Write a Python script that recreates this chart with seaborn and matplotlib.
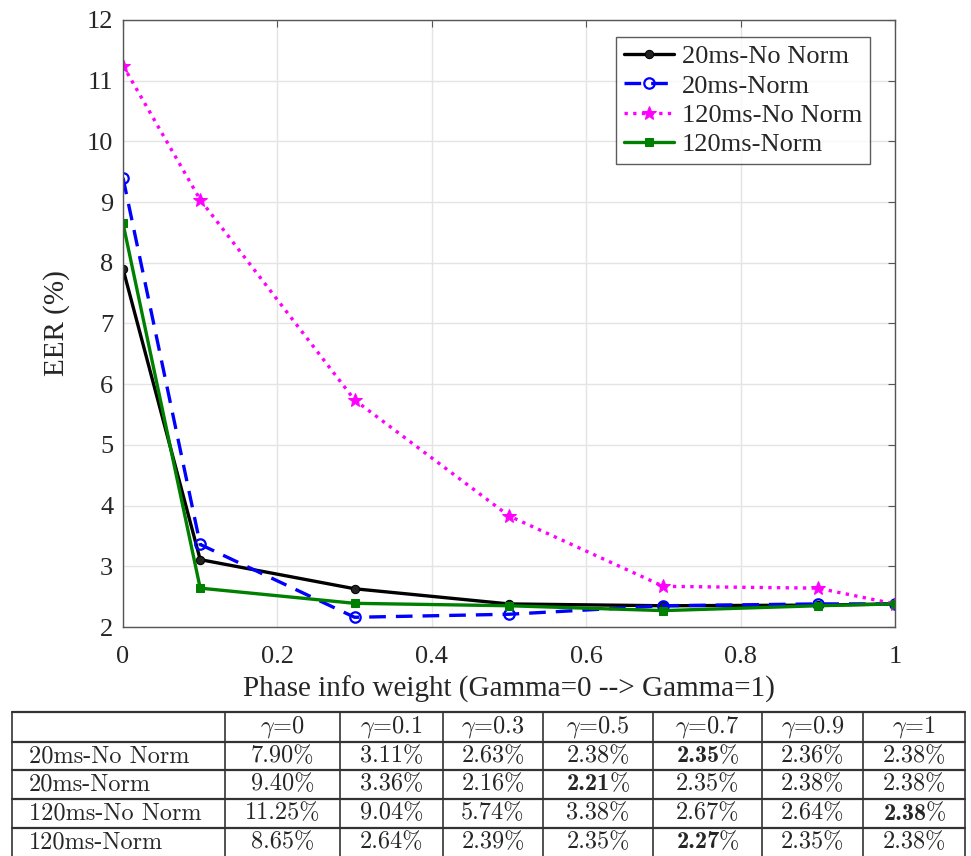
import matplotlib
matplotlib.use("Agg")
import matplotlib.pyplot as plt
import numpy as np
import pandas as pd
import seaborn as sns

# ---- data ----
gammas = [0, 0.1, 0.3, 0.5, 0.7, 0.9, 1]
series_names = ["20ms-No Norm", "20ms-Norm", "120ms-No Norm", "120ms-Norm"]
eer_20_nonorm = [7.90, 3.11, 2.63, 2.38, 2.35, 2.36, 2.38]
eer_20_norm = [9.40, 3.36, 2.16, 2.21, 2.35, 2.38, 2.38]
eer_120_nonorm = [11.25, 9.04, 5.74, 3.83, 2.67, 2.64, 2.38]
eer_120_norm = [8.65, 2.64, 2.39, 2.35, 2.27, 2.35, 2.38]

# table text (as printed)
col_headers = ["0", "0.1", "0.3", "0.5", "0.7", "0.9", "1"]
tbl_20_nonorm = ["7.90", "3.11", "2.63", "2.38", "2.35", "2.36", "2.38"]
tbl_20_norm = ["9.40", "3.36", "2.16", "2.21", "2.35", "2.38", "2.38"]
tbl_120_nonorm = ["11.25", "9.04", "5.74", "3.38", "2.67", "2.64", "2.38"]
tbl_120_norm = ["8.65", "2.64", "2.39", "2.35", "2.27", "2.35", "2.38"]
# bold (best) cells: column index per row
tbl_bold = [[4], [3], [6], [4]]

sns.set_style("white")
plt.rcParams["font.family"] = ["Liberation Serif", "DejaVu Serif"]
plt.rcParams["mathtext.fontset"] = "cm"

W, H = 971, 856
fig = plt.figure(figsize=(W / 100, H / 100), dpi=100)

ax = fig.add_axes([123 / W, 1 - 627 / H, (895 - 123) / W, (627 - 20) / H])

all_vals = [eer_20_nonorm, eer_20_norm, eer_120_nonorm, eer_120_norm]
styles = [
    dict(color="black", linestyle="-", marker="o", markersize=6,
         markerfacecolor="#222222", markeredgecolor="black"),
    dict(color="blue", linestyle=(0, (5, 3)), marker="o", markersize=7.5,
         markerfacecolor="none", markeredgecolor="blue", markeredgewidth=1.6),
    dict(color="magenta", linestyle=(0, (1, 1.6)), marker="*", markersize=10,
         markerfacecolor="magenta", markeredgecolor="magenta"),
    dict(color="#008000", linestyle="-", marker="s", markersize=6,
         markerfacecolor="#008000", markeredgecolor="#008000"),
]
for name, vals, st in zip(series_names, all_vals, styles):
    df = pd.DataFrame({"gamma": gammas, "eer": vals})
    sns.lineplot(data=df, x="gamma", y="eer", ax=ax, label=name,
                 linewidth=2.4, **st)

ax.set_xlim(0, 1)
ax.set_ylim(2, 12)
ax.set_xticks([0, 0.2, 0.4, 0.6, 0.8, 1])
ax.set_xticklabels(["0", "0.2", "0.4", "0.6", "0.8", "1"])
ax.set_yticks(range(2, 13))
ax.grid(True, color="#e4e4e4", linewidth=1)
ax.tick_params(direction="in", length=5, width=0.8, color="#555555",
               labelsize=19, top=True, right=True)
ax.tick_params(axis="x", pad=14)
ax.tick_params(axis="y", pad=7)
for sp in ax.spines.values():
    sp.set_color("#555555")
    sp.set_linewidth(1)
ax.set_xlabel("Phase info weight (Gamma=0 --> Gamma=1)", fontsize=21, labelpad=5)
ax.set_ylabel("EER (%)", fontsize=21, labelpad=12)

leg = ax.legend(loc="upper right", bbox_to_anchor=(0.968, 0.972), fontsize=19,
                frameon=True, fancybox=False, edgecolor="#333333",
                handlelength=1.9, handletextpad=0.3, borderpad=0.3,
                labelspacing=0.22, borderaxespad=0)
leg.get_frame().set_linewidth(1.0)

# ---- table underneath ----
tax = fig.add_axes([0, 0, 1, 1])
tax.set_xlim(0, W)
tax.set_ylim(H, 0)
tax.axis("off")

col_edges = [12, 225, 340, 443, 543, 653, 762, 863, 965]
row_edges = [712, 742, 770, 799, 828, 856]
for xe in col_edges:
    tax.plot([xe, xe], [row_edges[0], row_edges[-1]], color="#333333", lw=1.2)
for ye in row_edges[:-1]:
    tax.plot([col_edges[0], col_edges[-1]], [ye, ye], color="#333333", lw=1.6)

FS = 17.5
tfont = dict(family="cmr10", fontsize=FS, va="center")
for j, h in enumerate(col_headers):
    cx = (col_edges[j + 1] + col_edges[j + 2]) / 2
    cy = (row_edges[0] + row_edges[1]) / 2
    tax.text(cx, cy, r"$\gamma$=" + h, ha="center", **tfont)

renderer = fig.canvas.get_renderer()
tbl_rows = [tbl_20_nonorm, tbl_20_norm, tbl_120_nonorm, tbl_120_norm]
for i, (name, row) in enumerate(zip(series_names, tbl_rows)):
    cy = (row_edges[i + 1] + row_edges[i + 2]) / 2
    tax.text(col_edges[0] + 17, cy, name, ha="left", **tfont)
    for j, v in enumerate(row):
        cx = (col_edges[j + 1] + col_edges[j + 2]) / 2
        if j in tbl_bold[i]:
            # bold number followed by a regular percent sign, centred as a pair
            tb = tax.text(0, cy, v, ha="left", family="cmb10", fontsize=FS,
                          va="center")
            tp = tax.text(0, cy, "%", ha="left", **tfont)
            wb = tb.get_window_extent(renderer).width
            wp = tp.get_window_extent(renderer).width
            x0 = cx - (wb + wp) / 2 + 1
            tb.set_x(x0)
            tp.set_x(x0 + wb - 1)
        else:
            tax.text(cx, cy, v + "%", ha="center", **tfont)

fig.savefig("out.png", dpi=100)
